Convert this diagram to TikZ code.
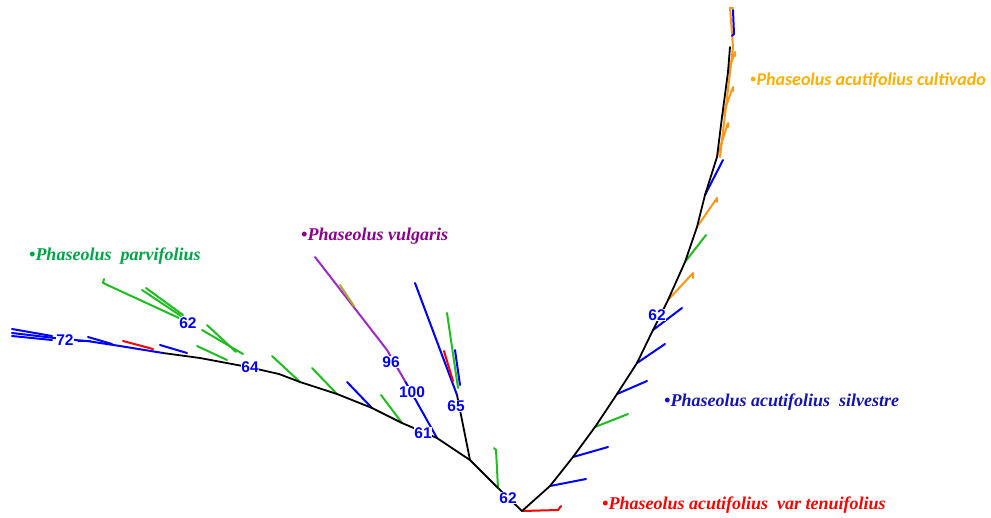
\documentclass[tikz,border=0pt]{standalone}
\usepackage{fontspec}
\setmainfont{Liberation Serif}
\newfontfamily\numfont{Liberation Sans}
\newfontfamily\orfont{Carlito}
\definecolor{nblue}{RGB}{0,0,255}
\definecolor{bgreen}{RGB}{30,190,30}
\definecolor{bpurple}{RGB}{160,40,200}
\definecolor{bolive}{RGB}{175,170,40}
\definecolor{borange}{RGB}{255,150,20}
\definecolor{lorange}{RGB}{255,175,0}
\definecolor{lnavy}{RGB}{20,20,180}
\definecolor{lpurple}{RGB}{140,0,140}
\definecolor{lgreen}{RGB}{0,165,70}
\definecolor{bred}{RGB}{255,0,0}
\begin{document}
\begin{tikzpicture}[x=1pt,y=-1pt,
  br/.style={line width=2pt, line cap=round, line join=round},
  spine/.style={line width=1.8pt, line cap=round, line join=round, black},
  num/.style={text=nblue, font=\numfont\bfseries\fontsize{15.5}{15.5}\selectfont, fill=white, inner sep=0.5pt},
  sp/.style={font=\bfseries\itshape\fontsize{18}{18}\selectfont, anchor=west, inner sep=0pt}]
\useasboundingbox (0,0) rectangle (991,517);
% ---------- coordinates ----------
\coordinate (R) at (522,511);
\coordinate (Rt) at (558,510);
\coordinate (Rt2) at (561,506);
% right spine
\coordinate (r1) at (550,486);
\coordinate (r2) at (573,457);
\coordinate (r3) at (595,427);
\coordinate (r4) at (617,394);
\coordinate (r5) at (637,363);
\coordinate (r6) at (653,330);
\coordinate (r7) at (668,300);
\coordinate (r8) at (685,262);
\coordinate (r9) at (697,227);
\coordinate (r10) at (705,195);
\coordinate (r11) at (717,157);
\coordinate (r12) at (722,117);
\coordinate (r13) at (728,72);
\coordinate (r14) at (730,47);
\coordinate (rtop) at (730,8);
% right tips
\coordinate (t1) at (586,479);
\coordinate (t2) at (608,447);
\coordinate (t3) at (628,414);
\coordinate (t4) at (647,381);
\coordinate (t5) at (665,344);
\coordinate (t6) at (682,308);
\coordinate (t7) at (693,273);
\coordinate (t8) at (706,235);
\coordinate (t9) at (717,198);
\coordinate (t10) at (723,160);
\coordinate (t11) at (728,123);
\coordinate (t12) at (733,87);
\coordinate (t13) at (735,52);
\coordinate (tb1) at (733,10);
\coordinate (tb2) at (734,34);
% left clade
\coordinate (L0) at (498,488);
\coordinate (G0) at (496,450);
\coordinate (L1) at (470,460);
\coordinate (K1) at (462,420);
\coordinate (C65) at (457,395);
\coordinate (a65) at (415,283);
\coordinate (g65s) at (458,388);
\coordinate (g65) at (447,313);
\coordinate (b65s) at (460,385);
\coordinate (b65) at (455,350);
\coordinate (r65s) at (453,381);
\coordinate (r65) at (444,351);
\coordinate (L2) at (437,438);
\coordinate (V1) at (405,381);
\coordinate (V2) at (387,350);
\coordinate (V3) at (315,257);
\coordinate (O1) at (340,285);
\coordinate (O2) at (354,306);
% main curve
\coordinate (M1) at (402,423);
\coordinate (M2) at (372,408);
\coordinate (M3) at (337,394);
\coordinate (M4) at (300,382);
\coordinate (M5) at (279,374);
\coordinate (M6) at (248,367);
\coordinate (M7) at (200,358);
\coordinate (M8) at (163,353);
\coordinate (M9) at (120,346);
\coordinate (M10) at (87,341);
\coordinate (M11) at (63,339);
\coordinate (M12) at (12,333);
% main tips
\coordinate (m1) at (381,395);
\coordinate (m2) at (347,382);
\coordinate (m3) at (312,368);
\coordinate (m4) at (272,356);
\coordinate (m6s) at (227,360);
\coordinate (m6) at (197,346);
% 62 clade
\coordinate (N64a) at (243,354);
\coordinate (N64b) at (236,352);
\coordinate (N62a) at (202,330);
\coordinate (N62b) at (207,325);
\coordinate (P0) at (179,318);
\coordinate (P1) at (103,283);
\coordinate (P2s) at (181,316);
\coordinate (P2) at (142,290);
\coordinate (P3s) at (183,315);
\coordinate (P3) at (146,288);
% parallels on left
\coordinate (Bp1) at (160,345);
\coordinate (Bp2) at (187,353);
\coordinate (Rp1) at (123,341);
\coordinate (Rp2) at (153,349);
\coordinate (Lb1) at (12,329);
\coordinate (Lb2) at (52,336);
\coordinate (Lb3) at (12,336);
\coordinate (Lb4) at (52,340);
\coordinate (Lb5) at (78,341);
\coordinate (Lb6) at (90,341);
\coordinate (Lb7) at (88,337);
\coordinate (Lb8) at (112,344);
% ---------- root ----------
\draw[br, bred] (R) -- (Rt) -- (Rt2);
\draw[spine] (R) -- (L0);
% ---------- right clade ----------
\draw[br, nblue] (r1) -- (t1);
\draw[br, nblue] (r2) -- (t2);
\draw[br, bgreen] (r3) -- (t3);
\draw[br, nblue] (r4) -- (t4);
\draw[br, nblue] (r5) -- (t5);
\draw[br, nblue] (r6) -- (t6);
\draw[br, borange] (r7) -- (t7) -- ++(0,5);
\draw[br, bgreen] (r8) -- (t8);
\draw[br, borange] (r9) -- (t9) -- ++(0,4);
\draw[br, nblue] (r10) -- (t10);
\draw[br, borange] (r11) -- (t11) -- ++(0,4);
\draw[br, borange] (r12) -- (t12) -- ++(0,4);
\draw[br, borange] (r13) -- (t13) -- ++(0,4);
\draw[br, borange] ([xshift=3pt]r11) -- ([xshift=3pt]r14) -- (rtop) -- ++(3,0);
\draw[br, nblue] (tb1) -- (tb2) -- ++(-2,2);
\draw[spine] (R) -- (r1) -- (r2) -- (r3) -- (r4) -- (r5) -- (r6) -- (r7) -- (r8) -- (r9) -- (r10) -- (r11) -- (r12) -- (r13) -- (r14);
% ---------- left clade ----------
\draw[br, bgreen] (L0) -- (G0) -- ++(-2,-2);
\draw[spine] (L0) -- (L1) -- (K1) -- (C65);
\draw[br, nblue] (C65) -- (a65);
\draw[br, bred] (r65s) -- (r65);
\draw[br, bgreen] (g65s) -- (g65);
\draw[br, nblue] (b65s) -- (b65);
\draw[br, nblue] (L2) -- (V1);
\draw[br, bpurple] (V1) -- (V2) -- (V3);
\draw[br, bolive] (O1) -- (O2);
\draw[br, bgreen] (M1) -- (m1);
\draw[br, nblue] (M2) -- (m2);
\draw[br, bgreen] (M3) -- (m3);
\draw[br, bgreen] (M4) -- (m4);
\draw[br, bgreen] (m6s) -- (m6);
\draw[br, bgreen] (N64a) -- (N62a);
\draw[br, bgreen] (N64b) -- (N62b);
\draw[br, bgreen] (P0) -- (P1) -- ++(1,-4);
\draw[br, bgreen] (P2s) -- (P2);
\draw[br, bgreen] (P3s) -- (P3);
\draw[br, nblue] (Bp1) -- (Bp2);
\draw[br, bred] (Rp1) -- (Rp2);
\draw[br, nblue] (M8) -- (M9) -- (M10) -- (M11) -- (M12);
\draw[br, nblue] (Lb1) -- (Lb2);
\draw[br, nblue] (Lb3) -- (Lb4);
\draw[br, nblue] (Lb5) -- (Lb6);
\draw[br, nblue] (Lb7) -- (Lb8);
\draw[spine] (L1) -- (L2) -- (M1) -- (M2) -- (M3) -- (M4) -- (M5) -- (M6) -- (M7) -- (M8);
% ---------- bootstrap values ----------
\node[num] (n72) at (65,340) {72};
\node[num] (n62a) at (188,323) {62};
\node[num] (n64) at (250,367) {64};
\node[num] (n96) at (391,362) {96};
\node[num] (n100) at (412,392) {100};
\node[num] (n61) at (423,433) {61};
\node[num] (n65) at (456,406) {65};
\node[num] (n62b) at (508,498) {62};
\node[num] (n62c) at (657,315) {62};
% ---------- species labels ----------
\node[sp, text=lorange, font=\orfont\bfseries\itshape\fontsize{18}{18}\selectfont] (cult) at (750,80) {{\rmfamily\upshape•}Phaseolus acutifolius cultivado};
\node[sp, text=lnavy] (silv) at (664,402) {•Phaseolus acutifolius~ silvestre};
\node[sp, text=bred] (ten) at (602,505) {•Phaseolus acutifolius~ var tenuifolius};
\node[sp, text=lpurple] (vul) at (301,236) {•Phaseolus vulgaris};
\node[sp, text=lgreen] (parv) at (29,256) {•Phaseolus~ parvifolius};
\end{tikzpicture}
\end{document}
